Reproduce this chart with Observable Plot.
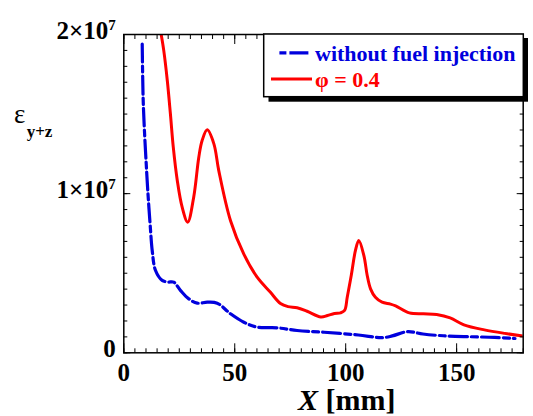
<!DOCTYPE html>
<html>
<head>
<meta charset="utf-8">
<script src="https://cdn.jsdelivr.net/npm/d3@7"></script>
<script src="https://cdn.jsdelivr.net/npm/@observablehq/plot@0.6"></script>
<style>
  html, body { margin: 0; padding: 0; background: #fff; }
  #chart svg { display: block; }
</style>
</head>
<body>
<div id="chart"></div>
<script>
// ---- data ----
const seriesNames = ["without fuel injection", "\u03c6 = 0.4"];

const xNoFuel = [8.3, 8.7, 9.3, 10.1, 10.8, 12.0, 12.8, 14.3, 17.3, 20.0, 22.5, 25.6, 29.3, 33.1, 37.6, 42.1, 48.1, 54.1, 60.1, 69.1, 78.1, 90.3, 105.7, 116.4, 121.0, 127.9, 134.8, 144.0, 156.3, 167.1, 176.3];
const yNoFuel = [1.94e7, 1.606e7, 1.397e7, 1.188e7, 1.02e7, 0.78e7, 0.643e7, 0.517e7, 0.455e7, 0.445e7, 0.444e7, 0.391e7, 0.339e7, 0.312e7, 0.318e7, 0.312e7, 0.245e7, 0.192e7, 0.161e7, 0.157e7, 0.140e7, 0.129e7, 0.112e7, 0.095e7, 0.106e7, 0.133e7, 0.118e7, 0.107e7, 0.101e7, 0.097e7, 0.090e7];

const xPhi = [16.85, 18.0, 19.6, 21.0, 22.3, 24.1, 26.3, 28.8, 31.5, 33.8, 35.3, 37.6, 40.6, 42.8, 48.1, 54.1, 60.1, 66.1, 70.6, 74.0, 78.1, 82.6, 88.8, 91.8, 94.9, 97.7, 99.5, 100.7, 102.5, 104.4, 105.9, 108.2, 109.7, 111.2, 113.4, 116.4, 120.2, 122.5, 128.7, 135.0, 141.0, 147.1, 153.3, 162.5, 171.7, 180.0];
const yPhi = [2.0e7, 1.9e7, 1.711e7, 1.502e7, 1.292e7, 1.083e7, 0.915e7, 0.821e7, 0.978e7, 1.229e7, 1.334e7, 1.401e7, 1.313e7, 1.145e7, 0.83e7, 0.62e7, 0.475e7, 0.38e7, 0.31e7, 0.29e7, 0.283e7, 0.261e7, 0.225e7, 0.234e7, 0.247e7, 0.251e7, 0.266e7, 0.349e7, 0.486e7, 0.643e7, 0.706e7, 0.611e7, 0.486e7, 0.402e7, 0.349e7, 0.318e7, 0.306e7, 0.295e7, 0.251e7, 0.245e7, 0.24e7, 0.219e7, 0.176e7, 0.144e7, 0.122e7, 0.106e7];

const xTicks = [0, 50, 100, 150];
const xTickLabels = ["0", "50", "100", "150"];
const xMinorTicks = d3.range(0, 181, 5);
const yTicks = [0, 1e7, 2e7];
const yTickLabels = ["0", "1\u00d710^7", "2\u00d710^7"];
const yMinorTicks = d3.range(0, 2.0001e7, 1e6);

const blue = "#0000dd";
const red = "#ff0000";

const noFuel = xNoFuel.map((x, i) => ({x, y: yNoFuel[i]}));
const phi = xPhi.map((x, i) => ({x, y: yPhi[i]}));

const font = "'Liberation Serif', 'Times New Roman', serif";

const plot = Plot.plot({
  width: 533,
  height: 416,
  marginLeft: 123.3,
  marginRight: 10.3,
  marginTop: 34,
  marginBottom: 63.7,
  style: {fontFamily: font, background: "#fff", color: "#000"},
  x: {domain: [0, 180], axis: null},
  y: {domain: [0, 2e7], axis: null},
  marks: [
    Plot.line(phi, {x: "x", y: "y", stroke: red, strokeWidth: 3, curve: "catmull-rom", clip: true}),
    Plot.line(noFuel, {x: "x", y: "y", stroke: blue, strokeWidth: 3.2, strokeDasharray: "18,4,6,4", curve: "catmull-rom", clip: true}),
    // inward minor ticks
    Plot.axisX(xMinorTicks, {anchor: "bottom", tickSize: -4, fill: "none", label: null}),
    Plot.axisX(xMinorTicks, {anchor: "top", tickSize: -4, fill: "none", label: null}),
    Plot.axisY(yMinorTicks, {anchor: "left", tickSize: -4, fill: "none", label: null}),
    Plot.axisY(yMinorTicks, {anchor: "right", tickSize: -4, fill: "none", label: null}),
    // inward major ticks
    Plot.axisX(xTicks, {anchor: "bottom", tickSize: -9, fill: "none", label: null}),
    Plot.axisX(xTicks, {anchor: "top", tickSize: -9, fill: "none", label: null}),
    Plot.axisY(yTicks, {anchor: "left", tickSize: -7, fill: "none", label: null}),
    Plot.axisY(yTicks, {anchor: "right", tickSize: -7, fill: "none", label: null}),
    // tick labels
    Plot.axisX(xTicks, {anchor: "bottom", tickSize: 0, tickPadding: 10, fontSize: 25, fontWeight: "bold", label: null,
      tickFormat: d => xTickLabels[xTicks.indexOf(d)]}),
    Plot.axisY(yTicks, {anchor: "left", tickSize: 0, tickPadding: 8, fontSize: 25, fontWeight: "bold", dy: -4, label: null,
      tickFormat: d => yTickLabels[yTicks.indexOf(d)]}),
    Plot.frame({stroke: "#000", strokeWidth: 1.5})
  ]
});

document.getElementById("chart").appendChild(plot);

const svg = d3.select(plot);

// superscript exponents in y tick labels
svg.selectAll('g[aria-label="y-axis tick label"] text').each(function () {
  const s = this.textContent;
  if (s.includes("^")) {
    const [base, exp] = s.split("^");
    const t = d3.select(this);
    t.text(base);
    t.append("tspan").attr("dy", -9).attr("font-size", 15).text(exp);
  }
});

// legend
const lg = svg.append("g").attr("font-family", font).attr("text-anchor", "start");
lg.append("rect").attr("x", 268.5).attr("y", 38).attr("width", 259.5).attr("height", 63.7).attr("fill", "#000");
lg.append("rect").attr("x", 263.7).attr("y", 34).attr("width", 259.6).attr("height", 62.7)
  .attr("fill", "#fff").attr("stroke", "#000").attr("stroke-width", 1.5);
lg.append("line").attr("x1", 279.4).attr("x2", 308.4).attr("y1", 52.8).attr("y2", 52.8)
  .attr("stroke", blue).attr("stroke-width", 3.2).attr("stroke-dasharray", "7,3,19,3");
lg.append("text").attr("x", 315).attr("y", 60.5).attr("font-size", 22).attr("font-weight", "bold")
  .attr("fill", blue).text(seriesNames[0]);
lg.append("line").attr("x1", 271).attr("x2", 312).attr("y1", 79).attr("y2", 79)
  .attr("stroke", red).attr("stroke-width", 3);
lg.append("text").attr("x", 315).attr("y", 87).attr("font-size", 22).attr("font-weight", "bold")
  .attr("fill", red).text(seriesNames[1]);

// axis titles
const yl = svg.append("g").attr("font-family", font).attr("fill", "#000").attr("text-anchor", "start");
yl.append("text").attr("x", 14).attr("y", 123).attr("font-size", 27).text("\u03b5");
yl.append("text").attr("x", 26.7).attr("y", 137).attr("font-size", 17).attr("font-weight", "bold").text("y+z");

const xl = svg.append("text").attr("font-family", font).attr("x", 346.7).attr("y", 410)
  .attr("text-anchor", "middle").attr("font-size", 30).attr("font-weight", "bold").attr("fill", "#000");
xl.append("tspan").attr("font-style", "italic").text("X");
xl.append("tspan").text(" [mm]");
</script>
</body>
</html>
